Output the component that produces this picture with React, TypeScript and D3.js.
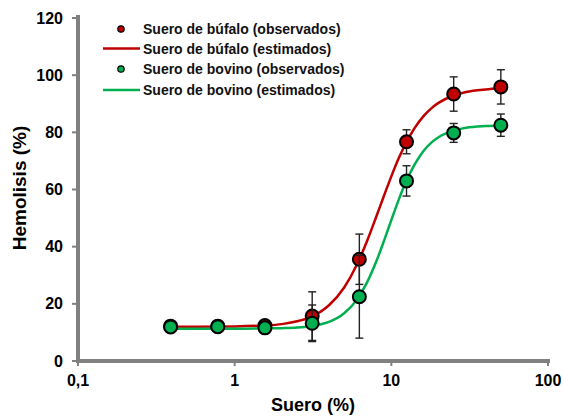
import React from "react";
import * as d3 from "d3";

// concentracion de suero (%) y hemolisis observada
const conc = [0.39, 0.78, 1.56, 3.125, 6.25, 12.5, 25, 50];
const bufaloObs = [12.2, 12.2, 12.4, 15.7, 35.6, 76.7, 93.4, 95.9];
const bufaloErr = [0.6, 0.6, 0.8, 8.5, 8.8, 4.2, 6.0, 6.0];
const bovinoObs = [11.9, 12.0, 11.6, 13.2, 22.5, 63.0, 79.8, 82.5];
const bovinoErr = [0.5, 0.6, 0.8, 6.4, 14.5, 5.3, 3.3, 3.9];

// curvas estimadas
const fitX = [0.39, 1, 1.5, 2, 2.5, 3, 3.5, 4, 5, 6, 7, 8, 9, 10, 11, 12, 14, 16, 18, 20, 25, 30, 40, 50];
const bufaloFit = [12.0, 12.1, 12.4, 12.9, 13.9, 15.2, 17.1, 19.5, 25.7, 33.5, 42.0, 50.4, 58.0, 64.6, 70.2, 74.7, 81.3, 85.6, 88.4, 90.3, 92.9, 94.1, 95.0, 95.4];
const bovinoFit = [11.3, 11.3, 11.4, 11.5, 11.7, 12.1, 12.8, 13.7, 16.7, 21.3, 27.5, 34.7, 42.2, 49.3, 55.6, 60.9, 68.5, 73.4, 76.4, 78.3, 80.6, 81.6, 82.2, 82.4];

const xTicks = [0.1, 1, 10, 100];
const xTickLabels = ["0,1", "1", "10", "100"];
const yTicks = [0, 20, 40, 60, 80, 100, 120];

const legendLabels = [
  "Suero de búfalo (observados)",
  "Suero de búfalo (estimados)",
  "Suero de bovino (observados)",
  "Suero de bovino (estimados)",
];

const width = 564;
const height = 418;
const RED = "#c00000";
const GREEN = "#00b050";
const AXIS = "#808080";
const font = "Liberation Sans, Arial, sans-serif";

const x = d3.scaleLog().domain([0.1, 100]).range([78, 548]);
const y = d3.scaleLinear().domain([0, 120]).range([361, 18]);

const line = d3
  .line<[number, number]>()
  .x((d) => x(d[0]))
  .y((d) => y(d[1]))
  .curve(d3.curveMonotoneX);

const Series = ({ obs, err, color }: { obs: number[]; err: number[]; color: string }) => (
  <g>
    {conc.map((c, i) => {
      const cx = x(c);
      const top = y(obs[i] + err[i]);
      const bot = y(obs[i] - err[i]);
      return (
        <g key={i} stroke="#222" strokeWidth={1.4}>
          <line x1={cx} x2={cx} y1={top} y2={bot} />
          <line x1={cx - 4} x2={cx + 4} y1={top} y2={top} />
          <line x1={cx - 4} x2={cx + 4} y1={bot} y2={bot} />
        </g>
      );
    })}
    {conc.map((c, i) => (
      <circle key={i} cx={x(c)} cy={y(obs[i])} r={6.5} fill={color} stroke="#000" strokeWidth={2} />
    ))}
  </g>
);

export default function App() {
  const bufaloPath = line(fitX.map((v, i) => [v, bufaloFit[i]] as [number, number])) || "";
  const bovinoPath = line(fitX.map((v, i) => [v, bovinoFit[i]] as [number, number])) || "";
  const legendY = [29, 48.5, 69, 90];

  return (
    <svg
      width={width}
      height={height}
      style={{ position: "absolute", left: 0, top: 0, background: "#fff" }}
      fontFamily={font}
      fontWeight="bold"
    >
      {/* ejes */}
      <line x1={78} x2={78} y1={15} y2={363} stroke={AXIS} strokeWidth={4} />
      <line x1={76} x2={550} y1={361} y2={361} stroke={AXIS} strokeWidth={4} />
      {yTicks.map((t) => (
        <g key={t}>
          <line x1={72} x2={78} y1={y(t)} y2={y(t)} stroke={AXIS} strokeWidth={2} />
          <text x={63} y={y(t) + 5.5} textAnchor="end" fontSize={16} fill="#000">
            {t}
          </text>
        </g>
      ))}
      {xTicks.map((t, i) => (
        <g key={t}>
          <line x1={x(t)} x2={x(t)} y1={361} y2={366} stroke={AXIS} strokeWidth={2} />
          <text x={x(t)} y={386} textAnchor="middle" fontSize={16} fill="#000">
            {xTickLabels[i]}
          </text>
        </g>
      ))}
      <text x={313} y={411} textAnchor="middle" fontSize={18} fill="#000">
        Suero (%)
      </text>
      <text transform="translate(26,188) rotate(-90)" textAnchor="middle" fontSize={19} fill="#000">
        Hemolisis (%)
      </text>

      {/* curvas estimadas */}
      <path d={bufaloPath} fill="none" stroke={RED} strokeWidth={2.5} />
      <path d={bovinoPath} fill="none" stroke={GREEN} strokeWidth={2.5} />

      <Series obs={bufaloObs} err={bufaloErr} color={RED} />
      <Series obs={bovinoObs} err={bovinoErr} color={GREEN} />

      {/* leyenda */}
      <circle cx={121} cy={legendY[0]} r={3.2} fill={RED} stroke="#000" strokeWidth={1.2} />
      <line x1={103} x2={140} y1={legendY[1]} y2={legendY[1]} stroke={RED} strokeWidth={2.5} />
      <circle cx={121} cy={legendY[2]} r={3.2} fill={GREEN} stroke="#000" strokeWidth={1.2} />
      <line x1={103} x2={140} y1={legendY[3]} y2={legendY[3]} stroke={GREEN} strokeWidth={2.5} />
      {legendLabels.map((l, i) => (
        <text key={l} x={143} y={legendY[i] + 5} fontSize={14} fill="#111">
          {l}
        </text>
      ))}
    </svg>
  );
}
